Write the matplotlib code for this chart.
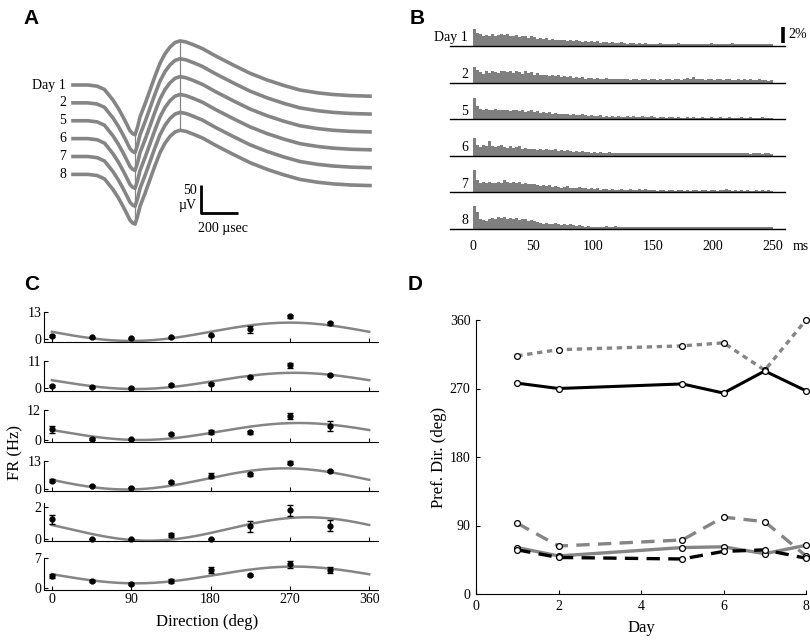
import numpy as np
import matplotlib
matplotlib.use("Agg")
import matplotlib.pyplot as plt

plt.rcParams["font.family"] = ["Liberation Serif", "DejaVu Serif"]
plt.rcParams["font.size"] = 10

GRAY = "#858585"
W, H = 810, 641

# ==============================
# Data
# ==============================
# A: spike waveform (time in usec, voltage in uV), same shape every day
wave_t = [0, 80, 130, 170, 216, 245, 270, 290, 308, 322, 335, 348, 362, 390, 416, 443,
          470, 497, 524, 551, 578, 610, 650, 700, 770, 864, 956, 1048, 1140, 1226, 1320,
          1404, 1500, 1604]
wave_v = [0, 0, -2, -8, -27, -42, -57, -70, -82, -87, -89, -76, -57, -33, -9, 16,
          39, 56, 68, 76, 79, 77, 72, 65, 52, 36, 21, 9, -1, -9, -14,
          -17, -19, -20]
day_labels = ["Day 1", "2", "5", "6", "7", "8"]

# B: post-spike histograms, 2.5 ms bins, percent
psth_day1 = [2.1, 1.6, 1.5, 1.3, 1.4, 1.2, 1.5, 1.3, 1.4, 1.5,
             1.4, 1.5, 1.3, 1.2, 1.4, 1.1, 1.3, 1.2, 1.0, 1.2,
             1.1, 0.9, 1.0, 0.9, 1.0, 0.8, 0.9, 0.8, 0.7, 0.8,
             0.7, 0.6, 0.7, 0.6, 0.7, 0.6, 0.5, 0.6, 0.5, 0.6,
             0.5, 0.6, 0.4, 0.5, 0.5, 0.4, 0.5, 0.4, 0.4, 0.5,
             0.4, 0.3, 0.4, 0.4, 0.3, 0.4, 0.3, 0.4, 0.3, 0.3,
             0.3, 0.3, 0.4, 0.3, 0.3, 0.2, 0.3, 0.3, 0.4, 0.3,
             0.3, 0.3, 0.2, 0.3, 0.3, 0.3, 0.2, 0.3, 0.3, 0.4,
             0.3, 0.2, 0.3, 0.3, 0.3, 0.2, 0.4, 0.3, 0.3, 0.2,
             0.3, 0.3, 0.2, 0.3, 0.3, 0.2, 0.3, 0.3, 0.2, 0.2]
psth_day2 = [2.0, 1.6, 1.3, 1.1, 1.4, 1.2, 1.5, 1.3, 1.2, 1.5,
             1.4, 1.3, 1.5, 1.2, 1.4, 1.3, 1.1, 1.4, 1.2, 1.3,
             1.0, 1.2, 0.9, 1.0, 0.9, 0.8, 1.0, 0.8, 0.9, 0.7,
             0.8, 0.7, 0.8, 0.6, 0.7, 0.6, 0.7, 0.5, 0.6, 0.6,
             0.5, 0.6, 0.5, 0.5, 0.6, 0.4, 0.5, 0.5, 0.4, 0.5,
             0.4, 0.4, 0.3, 0.4, 0.4, 0.3, 0.4, 0.4, 0.3, 0.4,
             0.4, 0.3, 0.4, 0.3, 0.4, 0.4, 0.3, 0.4, 0.4, 0.3,
             0.5, 0.6, 0.5, 0.7, 0.5, 0.4, 0.4, 0.3, 0.4, 0.4,
             0.3, 0.4, 0.4, 0.3, 0.4, 0.4, 0.3, 0.3, 0.4, 0.3,
             0.4, 0.3, 0.4, 0.3, 0.3, 0.4, 0.3, 0.3, 0.2, 0.3]
psth_day5 = [2.7, 1.6, 1.3, 1.2, 1.3, 1.2, 1.2, 1.3, 1.1, 1.2,
             1.1, 1.2, 1.0, 1.1, 1.2, 1.0, 1.1, 0.9, 1.0, 1.1,
             0.9, 1.0, 0.8, 0.9, 0.8, 0.9, 0.7, 0.8, 0.7, 0.6,
             0.7, 0.6, 0.5, 0.6, 0.5, 0.5, 0.6, 0.5, 0.4, 0.5,
             0.4, 0.4, 0.5, 0.3, 0.4, 0.3, 0.4, 0.3, 0.4, 0.3,
             0.3, 0.4, 0.3, 0.4, 0.3, 0.3, 0.4, 0.3, 0.3, 0.4,
             0.3, 0.2, 0.3, 0.3, 0.2, 0.3, 0.3, 0.2, 0.3, 0.2,
             0.2, 0.3, 0.2, 0.3, 0.2, 0.2, 0.3, 0.2, 0.2, 0.3,
             0.2, 0.2, 0.3, 0.2, 0.2, 0.3, 0.2, 0.2, 0.2, 0.3,
             0.2, 0.2, 0.3, 0.2, 0.2, 0.2, 0.3, 0.2, 0.2, 0.2]
psth_day6 = [2.2, 1.3, 1.1, 1.3, 1.2, 1.9, 1.2, 1.1, 1.2, 1.3,
             1.1, 1.0, 1.2, 1.0, 1.1, 1.2, 0.9, 1.0, 0.9, 0.8,
             0.9, 0.7, 0.8, 0.7, 0.8, 0.7, 0.7, 0.8, 0.6, 0.7,
             0.6, 0.7, 0.6, 0.5, 0.6, 0.5, 0.6, 0.5, 0.5, 0.4,
             0.5, 0.4, 0.5, 0.4, 0.4, 0.5, 0.4, 0.4, 0.3, 0.4,
             0.4, 0.3, 0.4, 0.3, 0.4, 0.3, 0.3, 0.4, 0.3, 0.3,
             0.3, 0.4, 0.3, 0.3, 0.3, 0.4, 0.3, 0.3, 0.4, 0.3,
             0.3, 0.3, 0.4, 0.3, 0.3, 0.3, 0.4, 0.3, 0.3, 0.3,
             0.4, 0.3, 0.3, 0.3, 0.4, 0.3, 0.3, 0.3, 0.4, 0.3,
             0.3, 0.3, 0.2, 0.3, 0.3, 0.3, 0.2, 0.3, 0.4, 0.2]
psth_day7 = [2.8, 1.6, 1.2, 1.3, 1.2, 1.3, 1.2, 1.2, 1.3, 1.2,
             1.5, 1.3, 1.2, 1.3, 1.2, 1.3, 1.1, 1.2, 1.1, 1.0,
             1.1, 0.9, 0.8, 0.9, 0.8, 0.9, 0.7, 0.8, 0.7, 0.6,
             0.7, 0.8, 0.6, 0.5, 0.6, 0.7, 0.5, 0.6, 0.4, 0.5,
             0.4, 0.5, 0.3, 0.4, 0.4, 0.3, 0.4, 0.3, 0.3, 0.4,
             0.3, 0.3, 0.4, 0.3, 0.3, 0.4, 0.3, 0.4, 0.3, 0.3,
             0.3, 0.2, 0.3, 0.3, 0.2, 0.3, 0.3, 0.2, 0.3, 0.3,
             0.2, 0.3, 0.2, 0.3, 0.3, 0.2, 0.3, 0.3, 0.2, 0.3,
             0.3, 0.2, 0.3, 0.3, 0.4, 0.3, 0.2, 0.3, 0.2, 0.3,
             0.2, 0.3, 0.2, 0.2, 0.3, 0.2, 0.3, 0.2, 0.3, 0.2]
psth_day8 = [2.9, 2.1, 1.3, 1.1, 1.0, 1.2, 1.4, 1.3, 1.5, 1.4,
             1.5, 1.3, 1.4, 1.2, 1.4, 1.1, 1.3, 1.2, 1.0, 1.1,
             1.0, 0.9, 0.7, 0.6, 0.7, 0.6, 0.6, 0.7, 0.6, 0.5,
             0.6, 0.5, 0.6, 0.5, 0.4, 0.5, 0.4, 0.3, 0.4, 0.3,
             0.3, 0.3, 0.2, 0.3, 0.4, 0.3, 0.3, 0.4, 0.3, 0.3,
             0.3, 0.2, 0.3, 0.3, 0.2, 0.3, 0.3, 0.3, 0.2, 0.3,
             0.3, 0.3, 0.2, 0.3, 0.3, 0.2, 0.3, 0.3, 0.2, 0.3,
             0.3, 0.2, 0.3, 0.2, 0.3, 0.3, 0.2, 0.3, 0.3, 0.2,
             0.3, 0.3, 0.2, 0.2, 0.3, 0.2, 0.3, 0.3, 0.2, 0.3,
             0.3, 0.2, 0.3, 0.3, 0.2, 0.3, 0.2, 0.3, 0.3, 0.3]
psth_rows = [psth_day1, psth_day2, psth_day5, psth_day6, psth_day7, psth_day8]
BIN_MS = 2.5
psth_ticks = [0, 50, 100, 150, 200, 250]

# C: tuning curves (Hz), mean +- sem at 8 directions, plus cosine fit params
directions = [0, 45, 90, 135, 180, 225, 270, 315]
fr_mean = [
    [1.4, 0.8, 0.3, 0.8, 1.8, 4.7, 11.0, 7.5],
    [0.9, 0.5, 0.0, 1.2, 1.6, 4.4, 9.3, 5.3],
    [4.3, 0.4, 0.3, 2.4, 3.2, 3.2, 9.7, 5.7],
    [3.9, 1.5, 0.6, 3.4, 6.2, 6.8, 12.2, 8.5],
    [1.23, 0.0, 0.0, 0.25, 0.0, 0.8, 1.8, 0.83],
    [2.8, 1.6, 0.9, 1.6, 4.2, 3.0, 5.5, 4.2],
]
fr_sem = [
    [0.5, 0.3, 0.3, 0.3, 0.4, 1.8, 0.8, 0.8],
    [0.4, 0.3, 0.3, 0.4, 0.4, 0.4, 1.0, 0.6],
    [1.3, 0.3, 0.3, 0.3, 0.8, 0.6, 1.2, 2.0],
    [0.7, 0.3, 0.3, 0.5, 1.1, 0.8, 0.8, 0.5],
    [0.3, 0.0, 0.0, 0.15, 0.0, 0.35, 0.35, 0.35],
    [0.4, 0.3, 0.3, 0.4, 0.8, 0.2, 0.8, 0.8],
]
fit_base = [3.5, 2.9, 3.4, 4.7, 0.63, 3.05]
fit_amp = [4.4, 3.3, 3.4, 4.9, 0.73, 1.95]
fit_pd = [270, 275, 280, 265, 290, 275]
fr_top_tick = [13, 11, 12, 13, 2, 7]

# D: preferred direction of five units across days
days = [1, 2, 5, 6, 7, 8]
pd_gray_dotted = [313, 321, 326, 330, 294, 360]
pd_black_solid = [277, 270, 276, 264, 293, 267]
pd_gray_dashed = [93, 63, 71, 101, 95, 50]
pd_gray_solid = [61, 50, 61, 62, 53, 64]
pd_black_dashed = [58, 48, 46, 56, 58, 47]


def px_axes(fig, left, top, right, bottom):
    return fig.add_axes([left / W, 1 - bottom / H, (right - left) / W, (bottom - top) / H])


fig = plt.figure(figsize=(W / 100, H / 100), dpi=100)

# ==============================
# Panel A
# ==============================
US_PER_PX = 5.4
UV_PER_PX = 1.79
DAY_STEP = 32  # uV between stacked waveforms
ax = px_axes(fig, 0, 0, 400, 250)
ax.axis("off")
ax.set_xlim(-73 * US_PER_PX, (400 - 73) * US_PER_PX)
ax.set_ylim(-(250 - 85) * UV_PER_PX, 85 * UV_PER_PX)

t = np.array(wave_t)
v = np.array(wave_v)
for i, lab in enumerate(day_labels):
    ax.plot(t, v - DAY_STEP * i, color=GRAY, lw=2.6, solid_joinstyle="round")
    ax.text(-38, -DAY_STEP * i, lab, ha="right", va="center", fontsize=10)
i_lo, i_hi = np.argmin(v), np.argmax(v)
n = len(day_labels) - 1
ax.plot([t[i_lo]] * 2, [v[i_lo], v[i_lo] - DAY_STEP * n], color=GRAY, lw=0.9)
ax.plot([t[i_hi]] * 2, [v[i_hi], v[i_hi] - DAY_STEP * n], color=GRAY, lw=0.9)

# scale bar 50 uV / 200 usec
sx, sy = 690, -229
ax.plot([sx, sx, sx + 200], [sy + 50, sy, sy], color="black", lw=2, solid_capstyle="butt")
ax.text(sx - 20, sy + 40, "50", ha="right", va="center", fontsize=10)
ax.text(sx - 20, sy + 14, "µV", ha="right", va="center", fontsize=10)
ax.text(sx + 120, sy - 27, "200 µsec", ha="center", va="center", fontsize=10)

# ==============================
# Panel B
# ==============================
ROW_STEP = 4.575
ax = px_axes(fig, 420, 0, 810, 260)
ax.axis("off")
ax.set_xlim(-53 / 1.2, 337 / 1.2)
ax.set_ylim(-214 / 8, 46 / 8)
for i, (row, lab) in enumerate(zip(psth_rows, day_labels)):
    base = -ROW_STEP * i
    centers = BIN_MS * (np.arange(len(row)) + 0.5)
    ax.bar(centers, row, width=BIN_MS, bottom=base, color="#7f7f7f", linewidth=0)
    ax.plot([-19, 260], [base, base], color="black", lw=1)
    ax.text(-4, base + 1.0, lab, ha="right", va="center", fontsize=10)
ybot = -ROW_STEP * (len(psth_rows) - 1)
for tk in psth_ticks:
    ax.text(tk, ybot - 2.2, str(tk), ha="center", va="center", fontsize=10)
ax.text(266.5, ybot - 2.2, "ms", ha="left", va="center", fontsize=10)
ax.plot([258.3, 258.3], [0.4, 2.4], color="black", lw=2.6, solid_capstyle="butt")
ax.text(262.5, 1.4, "2%", ha="left", va="center", fontsize=10)

# ==============================
# Panel C
# ==============================
rows_top = [312, 361, 410, 461, 503, 558]
rows_bot = [342, 391, 442, 491, 541, 590]
ylims = [(-1.4, 13), (-1.2, 11), (-0.8, 12), (-0.9, 13), (-0.12, 2.25), (-0.45, 7)]
theta = np.arange(0, 361, 2)
for i in range(6):
    ax = px_axes(fig, 44, rows_top[i], 378, rows_bot[i])
    ax.set_xlim(-9, 370)
    ax.set_ylim(*ylims[i])
    fit = fit_base[i] + fit_amp[i] * np.cos(np.radians(theta - fit_pd[i]))
    ax.plot(theta, fit, color=GRAY, lw=1.8)
    ax.errorbar(directions, fr_mean[i], yerr=fr_sem[i], fmt="o", color="black",
                ms=3.5, capsize=2, elinewidth=1, capthick=1, clip_on=False)
    ax.set_yticks([0, fr_top_tick[i]])
    ax.set_xticks([0, 90, 180, 270, 360])
    ax.tick_params(direction="in", length=3, width=0.8, labelsize=10, pad=2)
    if i < 5:
        ax.set_xticklabels([])
    for s in ["top", "right"]:
        ax.spines[s].set_visible(False)
fig.text(15 / W, 1 - 452 / H, "FR (Hz)", rotation=90, ha="center", va="center", fontsize=12)
fig.text(207 / W, 1 - 622 / H, "Direction (deg)", ha="center", va="center", fontsize=12)

# ==============================
# Panel D
# ==============================
ax = px_axes(fig, 476, 320, 806, 594)
mk = dict(marker="o", ms=4.2, mfc="white", mec="black", mew=0.9, clip_on=False)
ax.plot(days, pd_gray_dotted, color=GRAY, lw=2.4, ls=(0, (1.6, 1.4)), **mk)
ax.plot(days, pd_black_solid, color="black", lw=2.2, **mk)
ax.plot(days, pd_gray_dashed, color=GRAY, lw=2.4, ls=(0, (4, 2.5)), **mk)
ax.plot(days, pd_gray_solid, color=GRAY, lw=2.4, **mk)
ax.plot(days, pd_black_dashed, color="black", lw=2.4, ls=(0, (4, 2.5)), **mk)
ax.set_xlim(0, 8)
ax.set_ylim(0, 360)
ax.set_xticks([0, 2, 4, 6, 8])
ax.set_yticks([0, 90, 180, 270, 360])
ax.tick_params(direction="in", length=3, width=0.8, labelsize=10, pad=4)
for s in ["top", "right"]:
    ax.spines[s].set_visible(False)
fig.text(439 / W, 1 - 457 / H, "Pref. Dir. (deg)", rotation=90, ha="center", va="center", fontsize=12)
fig.text(641 / W, 1 - 628 / H, "Day", ha="center", va="center", fontsize=12)

# panel letters
for lab, x, y in [("A", 31, 19), ("B", 417, 19), ("C", 32, 285), ("D", 415, 285)]:
    fig.text(x / W, 1 - y / H, lab, ha="center", va="center", fontsize=15,
             fontweight="bold", family="Liberation Sans")

fig.savefig("out.png", dpi=100)
